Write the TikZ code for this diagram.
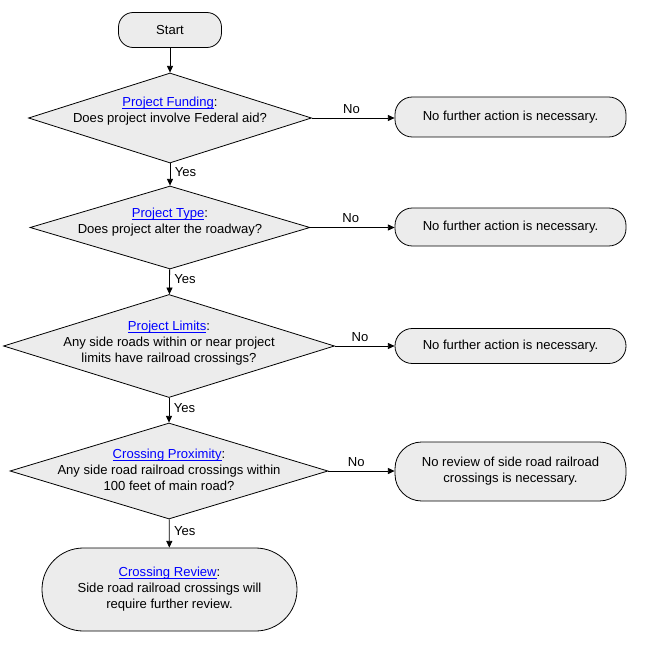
\documentclass[tikz,border=0pt]{standalone}
\usepackage{fontspec}
\setmainfont{Liberation Sans}
\usepackage{xcolor}
\usepackage{tikz}
\usetikzlibrary{positioning, shapes.geometric, arrows.meta}
\definecolor{linkblue}{RGB}{0,0,255}
\definecolor{granite}{RGB}{236,236,236}
\newcommand{\link}[1]{\textcolor{linkblue}{\setbox0\hbox{#1}\rlap{\rule[-1.6pt]{\wd0}{0.6pt}}\box0}}
\tikzstyle{startstop} = [rectangle, rounded corners=11pt, minimum width=77.25pt, minimum height=26.25pt, text centered, draw=black, fill=granite]
\tikzstyle{decision} = [diamond, inner sep=0pt, draw=black, fill=granite]
\tikzstyle{outcome} = [rectangle, rounded corners=13pt, minimum width=173.25pt, text centered, align=center, draw=black, fill=granite]
\tikzstyle{question} = [align=center, inner sep=0pt]
\tikzstyle{arrow} = [->,>={Triangle[length=5pt,width=4.5pt]}]
\tikzstyle{every node}=[font=\fontsize{9.8}{12}\selectfont]

\begin{document}
\begin{tikzpicture}[x=0.75pt, y=-0.75pt, line width=0.6pt]
		\useasboundingbox (0,0) rectangle (645,649);
		\node (start) [startstop] at (170,30) {Start};
		\node (dec1) [decision, minimum width=212.25pt, minimum height=67.5pt] at (170,118) {};
		\node (dec2) [decision, minimum width=210pt, minimum height=62.25pt] at (170,227.5) {};
		\node (dec3) [decision, minimum width=248.25pt, minimum height=77.25pt] at (169,346) {};
		\node (dec4) [decision, minimum width=238.5pt, minimum height=72pt] at (169,471) {};
		\node (stop1) [outcome, rounded corners=31pt, minimum width=191.25pt, minimum height=62.25pt] at (169.5,589.5) {\link{Crossing Review}:\\Side road railroad crossings will\\require further review.};
		\node (q1) [question, yshift=5.25pt] at (dec1) {\link{Project Funding}:\\Does project involve Federal aid?};
		\node (q2) [question, yshift=4.1pt] at (dec2) {\link{Project Type}:\\Does project alter the roadway?};
		\node (q3) [question, yshift=2.25pt] at (dec3) {\link{Project Limits}:\\Any side roads within or near project\\limits have railroad crossings?};
		\node (q4) [question, yshift=0.75pt] at (dec4) {\link{Crossing Proximity}:\\Any side road railroad crossings within\\100 feet of main road?};
		\node (no1) [outcome, minimum height=30pt] at (510.5,117) {No further action is necessary.};
		\node (no2) [outcome, minimum height=28.5pt] at (510.5,227) {No further action is necessary.};
		\node (no3) [outcome, minimum height=26.25pt] at (510.5,346) {No further action is necessary.};
		\node (no4) [outcome, rounded corners=20pt, minimum height=44.25pt] at (510.5,471.5) {No review of side road railroad\\crossings is necessary.};
		\draw [arrow](start) -- (dec1);
		\draw [arrow](dec1) -- node[right, pos=0.4]{Yes}(dec2);
		\draw [arrow](dec2) -- node[right, pos=0.4]{Yes}(dec3);
		\draw [arrow](dec3) -- node[right, pos=0.4]{Yes}(dec4);
		\draw [arrow](dec4) -- node[right, pos=0.4]{Yes}(stop1);
		\draw [arrow](dec1.east) -- node[above, pos=0.48]{No}(no1.west |- dec1.east);
		\draw [arrow](dec2.east) -- node[above, pos=0.48]{No}(no2.west |- dec2.east);
		\draw [arrow](dec3.east) -- node[above, pos=0.42]{No}(no3.west |- dec3.east);
		\draw [arrow](dec4.east) -- node[above, pos=0.42]{No}(no4.west |- dec4.east);
	\end{tikzpicture}
\end{document}
